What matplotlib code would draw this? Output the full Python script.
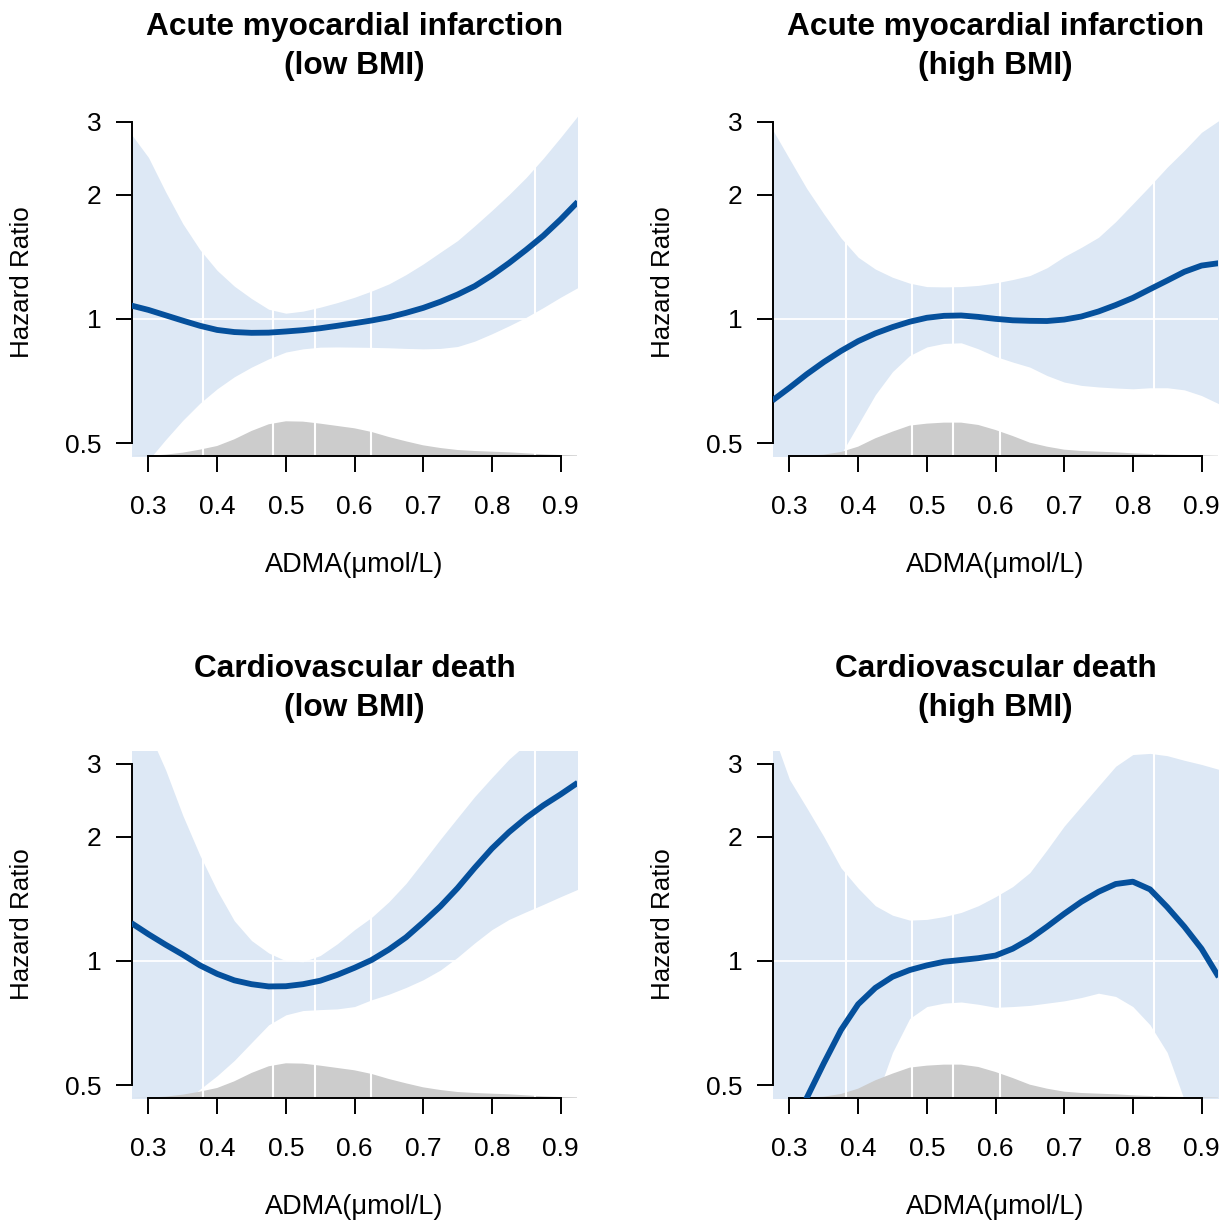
import numpy as np
import matplotlib
matplotlib.use('Agg')
import matplotlib.pyplot as plt
import matplotlib.transforms as mtransforms
from matplotlib.ticker import NullLocator

plt.rcParams['font.family'] = ['Liberation Sans', 'DejaVu Sans']

# ADMA values (umol/L) at which the curves were read
adma = [0.275, 0.300, 0.325, 0.350, 0.375, 0.400, 0.425, 0.450, 0.475,
        0.500, 0.525, 0.550, 0.575, 0.600, 0.625, 0.650, 0.675, 0.700,
        0.725, 0.750, 0.775, 0.800, 0.825, 0.850, 0.875, 0.900, 0.925]

# acute myocardial infarction, low BMI
hr_ami_low = [1.077, 1.051, 1.02, 0.99, 0.962, 0.94, 0.929, 0.925, 0.926, 0.932, 0.939, 0.949, 0.962, 0.976,
              0.991, 1.009, 1.034, 1.063, 1.10, 1.145, 1.20, 1.275, 1.365, 1.47, 1.59, 1.74, 1.92]
lo_ami_low = [0.40, 0.455, 0.51, 0.568, 0.625, 0.677, 0.724, 0.764, 0.80, 0.831, 0.846, 0.854, 0.855, 0.854,
              0.853, 0.851, 0.848, 0.846, 0.848, 0.857, 0.883, 0.92, 0.962, 1.009, 1.065, 1.128, 1.19]
hi_ami_low = [2.80, 2.46, 2.03, 1.70, 1.47, 1.31, 1.20, 1.12, 1.055, 1.032, 1.044, 1.067, 1.095, 1.128,
              1.168, 1.215, 1.28, 1.358, 1.45, 1.547, 1.68, 1.83, 2.00, 2.20, 2.45, 2.75, 3.10]

# acute myocardial infarction, high BMI
hr_ami_high = [0.634, 0.681, 0.734, 0.786, 0.836, 0.883, 0.922, 0.955, 0.984, 1.006, 1.017, 1.019, 1.011, 1.00,
               0.992, 0.989, 0.988, 0.996, 1.013, 1.042, 1.08, 1.124, 1.18, 1.238, 1.30, 1.346, 1.364]
lo_ami_high = [0.28, 0.31, 0.35, 0.40, 0.47, 0.555, 0.655, 0.745, 0.815, 0.855, 0.872, 0.875, 0.846, 0.811,
               0.786, 0.764, 0.729, 0.703, 0.69, 0.684, 0.68, 0.677, 0.681, 0.681, 0.673, 0.652, 0.623]
hi_ami_high = [2.88, 2.44, 2.07, 1.795, 1.57, 1.41, 1.32, 1.261, 1.22, 1.197, 1.195, 1.197, 1.205, 1.222,
               1.245, 1.273, 1.33, 1.415, 1.49, 1.576, 1.72, 1.90, 2.10, 2.33, 2.56, 2.83, 3.02]

# cardiovascular death, low BMI
hr_cvd_low = [1.235, 1.16, 1.094, 1.035, 0.975, 0.93, 0.897, 0.878, 0.867, 0.868, 0.878, 0.895, 0.925, 0.962,
              1.005, 1.065, 1.14, 1.24, 1.355, 1.50, 1.68, 1.87, 2.05, 2.22, 2.38, 2.53, 2.70]
lo_cvd_low = [0.33, 0.37, 0.41, 0.45, 0.489, 0.527, 0.574, 0.634, 0.70, 0.74, 0.758, 0.762, 0.765, 0.775,
              0.805, 0.83, 0.862, 0.90, 0.95, 1.02, 1.105, 1.19, 1.26, 1.315, 1.37, 1.43, 1.49]
hi_cvd_low = [4.2, 3.6, 2.9, 2.25, 1.80, 1.48, 1.25, 1.12, 1.045, 1.0, 0.995, 1.03, 1.10, 1.19,
              1.275, 1.39, 1.54, 1.74, 1.97, 2.22, 2.50, 2.78, 3.08, 3.35, 3.7, 4.1, 4.5]

# cardiovascular death, high BMI
hr_cvd_high = [0.31, 0.38, 0.465, 0.565, 0.68, 0.785, 0.86, 0.915, 0.95, 0.975, 0.995, 1.005, 1.015, 1.03,
               1.07, 1.13, 1.21, 1.30, 1.39, 1.47, 1.535, 1.555, 1.49, 1.35, 1.21, 1.07, 0.914]
lo_cvd_high = [0.20, 0.23, 0.27, 0.32, 0.37, 0.42, 0.46, 0.60, 0.725, 0.775, 0.79, 0.795, 0.785, 0.772,
               0.775, 0.78, 0.79, 0.80, 0.815, 0.835, 0.82, 0.775, 0.70, 0.60, 0.46, 0.37, 0.30]
hi_cvd_high = [3.6, 2.75, 2.35, 2.0, 1.68, 1.50, 1.36, 1.29, 1.255, 1.26, 1.28, 1.31, 1.36, 1.43,
               1.513, 1.636, 1.857, 2.12, 2.37, 2.65, 2.96, 3.16, 3.18, 3.14, 3.06, 2.99, 2.91]

# ADMA distribution (relative density)
dens_low = [0, 1, 4, 10, 19, 30, 50, 75, 95, 104, 103, 97, 90, 83, 72, 57, 44, 32, 24, 18, 15, 13, 11, 8, 5, 3, 2]
dens_high = [0, 0, 1, 4, 12, 28, 53, 73, 91, 97, 100, 100, 93, 78, 60, 40, 28, 19, 15, 13, 11, 8, 6, 4, 3, 2, 1]

# knot locations (white reference lines)
knots_low = [0.379, 0.481, 0.543, 0.624, 0.863]
knots_high = [0.383, 0.479, 0.538, 0.606, 0.831]

yticks = [0.5, 1, 2, 3]
ytick_labels = ['0.5', '1', '2', '3']
xticks = [0.3, 0.4, 0.5, 0.6, 0.7, 0.8, 0.9]
xtick_labels = ['0.3', '0.4', '0.5', '0.6', '0.7', '0.8', '0.9']

BLUE = '#05509C'
BAND = '#DDE8F5'
GREY = '#CCCCCC'

W, H = 1223, 1222
fig = plt.figure(figsize=(W / 100, H / 100), dpi=100)


def add_panel(left, top, right, bottom):
    return fig.add_axes([left / W, 1 - bottom / H, (right - left) / W, (bottom - top) / H])


def draw(ax, title, hr, lo, hi, dens, knots):
    pw = ax.get_position().width * W
    ph = ax.get_position().height * H
    ax.set_yscale('log')
    ax.set_xlim(0.276, 0.924)
    ax.set_ylim(0.4654, 3.223)

    ax.fill_between(adma, lo, hi, color=BAND, lw=0, zorder=1)
    # density of ADMA along the bottom
    trans = mtransforms.blended_transform_factory(ax.transData, ax.transAxes)
    dy = np.array(dens) / 1040.0
    ax.fill(adma + adma[::-1], list(dy) + [0] * len(adma), color=GREY, lw=0,
            transform=trans, zorder=1.5)
    for k in knots:
        ax.axvline(k, color='white', lw=1.5, zorder=2)
    ax.axhline(1, color='white', lw=1.3, zorder=2)
    ax.plot(adma, hr, color=BLUE, lw=4.2, zorder=3, solid_capstyle='butt')

    ax.set_yticks(yticks)
    ax.set_yticklabels(ytick_labels)
    ax.yaxis.set_minor_locator(NullLocator())
    ax.set_xticks(xticks)
    ax.set_xticklabels(xtick_labels)
    for s in ['top', 'right']:
        ax.spines[s].set_visible(False)
    ax.spines['left'].set_bounds(0.5, 3)
    ax.spines['bottom'].set_bounds(0.3, 0.9)
    for s in ['left', 'bottom']:
        ax.spines[s].set_linewidth(1.4)
    ax.tick_params(axis='both', direction='out', length=11.5, width=1.4, labelsize=19)
    ax.tick_params(axis='y', pad=10.5)
    ax.tick_params(axis='x', pad=16.5)

    t1, t2 = title
    ax.text(0.5, 1 + 82 / ph, t1, transform=ax.transAxes, ha='center', va='center',
            fontsize=22.8, fontweight='bold')
    ax.text(0.5, 1 + 43 / ph, t2, transform=ax.transAxes, ha='center', va='center',
            fontsize=22.8, fontweight='bold')
    ax.text(-110 / pw, 0.5, 'Hazard Ratio', transform=ax.transAxes, rotation=90,
            ha='center', va='center', fontsize=18.7)
    ax.text(0.5, -109 / ph, 'ADMA(μmol/L)', transform=ax.transAxes,
            ha='center', va='center', fontsize=19.5)


ax1 = add_panel(132, 109, 577, 456)
ax2 = add_panel(773, 109, 1218, 456)
ax3 = add_panel(132, 751, 577, 1098)
ax4 = add_panel(773, 751, 1218, 1098)

draw(ax1, ('Acute myocardial infarction', '(low BMI)'), hr_ami_low, lo_ami_low, hi_ami_low, dens_low, knots_low)
draw(ax2, ('Acute myocardial infarction', '(high BMI)'), hr_ami_high, lo_ami_high, hi_ami_high, dens_high, knots_high)
draw(ax3, ('Cardiovascular death', '(low BMI)'), hr_cvd_low, lo_cvd_low, hi_cvd_low, dens_low, knots_low)
draw(ax4, ('Cardiovascular death', '(high BMI)'), hr_cvd_high, lo_cvd_high, hi_cvd_high, dens_high, knots_high)

fig.savefig('out.png', dpi=100)
